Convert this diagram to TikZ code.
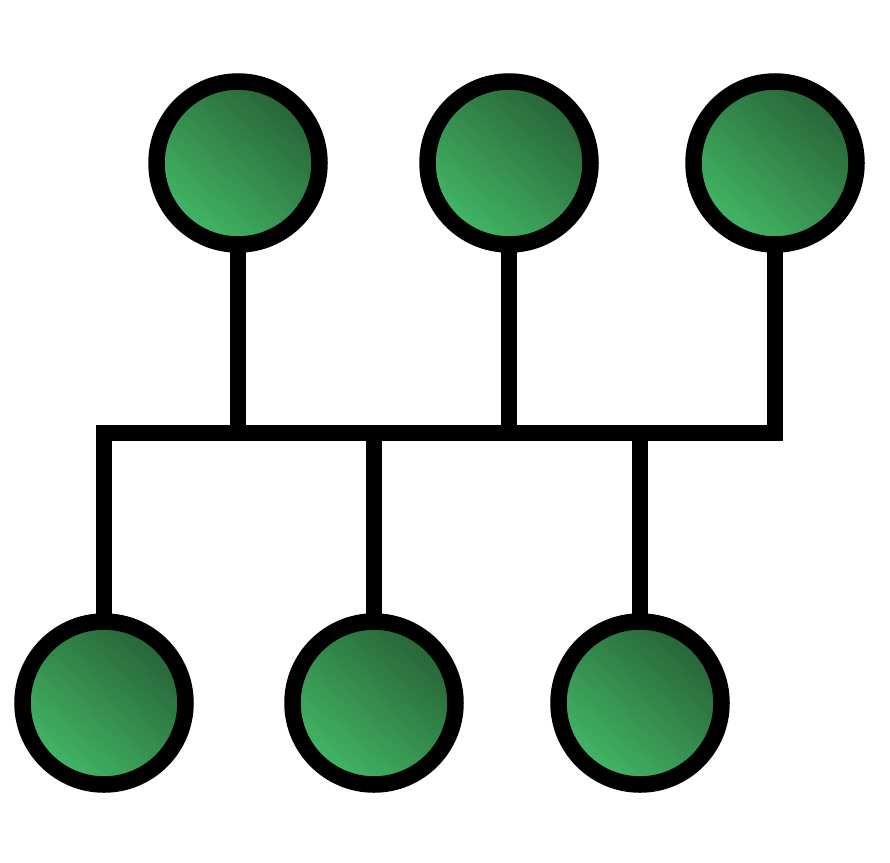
\documentclass[tikz,border=0pt]{standalone}
\usetikzlibrary{backgrounds}
\definecolor{gdark}{HTML}{276236}
\definecolor{glight}{HTML}{42B866}
\begin{document}
\begin{tikzpicture}[x=1pt,y=-1pt,
  host/.style={circle,minimum size=163pt,inner sep=0pt,draw=black,line width=16.5pt,
    top color=gdark,bottom color=glight,shading angle=-40},
  wire/.style={draw=black,line width=16pt,line join=miter}]
\useasboundingbox (0,0) rectangle (890,862);
\node[host] (t1) at (238,163) {};
\node[host] (t2) at (509,163) {};
\node[host] (t3) at (775,163) {};
\node[host] (b1) at (104,703) {};
\node[host] (b2) at (374,703) {};
\node[host] (b3) at (640,703) {};
\coordinate (bus) at (0,433);
\begin{pgfonlayer}{background}
\draw[wire] (b1.center) -- (b1.center |- bus) -- (t3.center |- bus) -- (t3.center);
\draw[wire] (t1.center) -- (t1.center |- bus);
\draw[wire] (t2.center) -- (t2.center |- bus);
\draw[wire] (b2.center) -- (b2.center |- bus);
\draw[wire] (b3.center) -- (b3.center |- bus);
\end{pgfonlayer}
\end{tikzpicture}
\end{document}
